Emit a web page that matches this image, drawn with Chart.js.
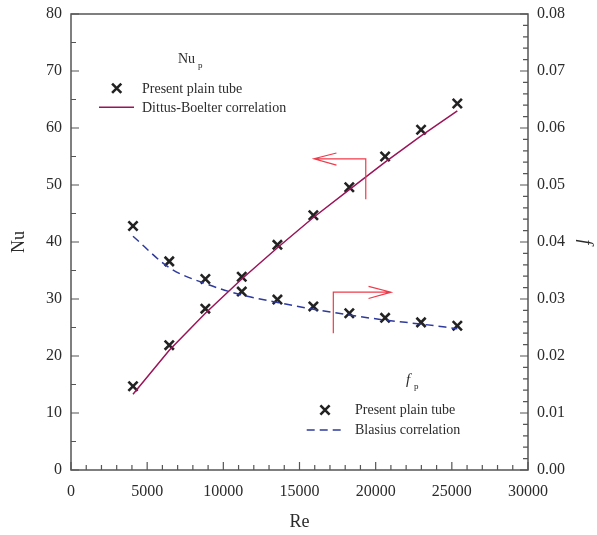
<!DOCTYPE html>
<html>
<head>
<meta charset="utf-8">
<script src="https://cdn.jsdelivr.net/npm/chart.js@4.4.1/dist/chart.umd.min.js"></script>
<style>
  html, body { margin: 0; padding: 0; background: #fff; }
  #wrap { width: 597px; height: 535px; }
</style>
</head>
<body>
<div id="wrap"><canvas id="chart" width="597" height="535"></canvas></div>
<script>
// Reynolds numbers of the test points
const re = [4070, 6450, 8820, 11210, 13550, 15910, 18270, 20620, 22980, 25360];
// Nusselt number, present plain tube
const nuPlain = [14.7, 21.9, 28.3, 33.9, 39.5, 44.7, 49.6, 55.0, 59.7, 64.3];
// Dittus-Boelter correlation
const nuDittus = [13.3, 21.0, 27.5, 33.5, 39.0, 44.3, 49.2, 54.0, 58.6, 63.0];
// friction factor, present plain tube
const fPlain = [0.0428, 0.0366, 0.0335, 0.0313, 0.0299, 0.0287, 0.0275, 0.0267, 0.0259, 0.0253];
// Blasius correlation
const fBlasius = [0.0410, 0.0355, 0.0327, 0.0307, 0.0294, 0.0282, 0.0272, 0.0263, 0.0256, 0.0248];

const SERIF = '"Liberation Serif", "DejaVu Serif", serif';
const TEXT = '#2b2b2b';
const AXIS = '#555';
const RED = '#ee3b4a';

const pts = (xs, ys) => xs.map((x, i) => ({ x: x, y: ys[i] }));

// inward ticks, frame, legends and arrows
const decor = {
    id: 'decor',
    afterDraw(chart) {
        const ctx = chart.ctx;
        const a = chart.chartArea;
        const sx = chart.scales.x, sn = chart.scales.yNu, sf = chart.scales.yF;
        ctx.save();

        // frame
        ctx.strokeStyle = AXIS;
        ctx.lineWidth = 1.5;
        ctx.strokeRect(a.left, a.top, a.right - a.left, a.bottom - a.top);

        // ticks
        ctx.lineWidth = 1.2;
        ctx.beginPath();
        for (let v = 0; v <= 30000; v += 1000) {
            const px = sx.getPixelForValue(v);
            const len = v % 5000 === 0 ? 8 : 5;
            ctx.moveTo(px, a.bottom); ctx.lineTo(px, a.bottom - len);
        }
        for (let v = 0; v <= 80; v += 5) {
            const py = sn.getPixelForValue(v);
            const len = v % 10 === 0 ? 8 : 5;
            ctx.moveTo(a.left, py); ctx.lineTo(a.left + len, py);
        }
        for (let k = 0; k <= 40; k++) {
            const py = sf.getPixelForValue(k * 0.002);
            const len = k % 5 === 0 ? 8 : 5;
            ctx.moveTo(a.right, py); ctx.lineTo(a.right - len, py);
        }
        ctx.stroke();

        // cross marker helper
        const cross = (x, y) => {
            ctx.save();
            ctx.strokeStyle = '#222';
            ctx.lineWidth = 2.6;
            ctx.beginPath();
            ctx.moveTo(x - 4.6, y - 4.6); ctx.lineTo(x + 4.6, y + 4.6);
            ctx.moveTo(x + 4.6, y - 4.6); ctx.lineTo(x - 4.6, y + 4.6);
            ctx.stroke();
            ctx.restore();
        };

        ctx.fillStyle = TEXT;
        ctx.textAlign = 'left';
        ctx.textBaseline = 'alphabetic';

        // legend Nu
        ctx.font = '14px ' + SERIF;
        ctx.fillText('Nu', 178, 63);
        ctx.font = '9px ' + SERIF;
        ctx.fillText('p', 198, 68);
        ctx.font = '14px ' + SERIF;
        cross(116.7, 88.3);
        ctx.fillText('Present plain tube', 142, 92.5);
        ctx.strokeStyle = '#9a1458';
        ctx.lineWidth = 1.5;
        ctx.beginPath(); ctx.moveTo(99, 107.3); ctx.lineTo(134, 107.3); ctx.stroke();
        ctx.fillText('Dittus-Boelter correlation', 142, 111.5);

        // legend f
        ctx.font = 'italic 15px ' + SERIF;
        ctx.fillText('f', 406, 384);
        ctx.font = '9px ' + SERIF;
        ctx.fillText('p', 414, 389);
        ctx.font = '14px ' + SERIF;
        cross(325, 410);
        ctx.fillText('Present plain tube', 355, 414);
        ctx.strokeStyle = '#2e3a9c';
        ctx.lineWidth = 1.5;
        ctx.setLineDash([8, 5]);
        ctx.beginPath(); ctx.moveTo(306.7, 430); ctx.lineTo(341.7, 430); ctx.stroke();
        ctx.setLineDash([]);
        ctx.fillText('Blasius correlation', 355, 433.7);

        // arrows
        ctx.strokeStyle = RED;
        ctx.lineWidth = 1.2;
        const arrow = (xv, y0, y1, xTip) => {
            const x = sx.getPixelForValue(xv);
            const yb = sn.getPixelForValue(y0), yt = sn.getPixelForValue(y1);
            const xt = sx.getPixelForValue(xTip);
            const dir = xt < x ? 1 : -1;
            ctx.beginPath();
            ctx.moveTo(x, yb); ctx.lineTo(x, yt); ctx.lineTo(xt, yt);
            ctx.moveTo(xt + dir * 22.5, yt - 5.8); ctx.lineTo(xt, yt); ctx.lineTo(xt + dir * 22.5, yt + 6.3);
            ctx.stroke();
        };
        arrow(19350, 47.5, 54.6, 15950);
        arrow(17220, 24.0, 31.2, 21010);

        ctx.restore();
    }
};

// fixed axis boxes so the plot area lands where the reference has it
const fixSize = (w, h) => (scale) => {
    if (w !== null) scale.width = w;
    if (h !== null) scale.height = h;
    scale.paddingTop = 0;
    scale.paddingBottom = 0;
    scale.paddingLeft = 0;
    scale.paddingRight = 0;
};

new Chart(document.getElementById('chart'), {
    type: 'scatter',
    data: {
        datasets: [
            {
                label: 'Dittus-Boelter correlation',
                data: pts(re, nuDittus),
                yAxisID: 'yNu',
                showLine: true,
                borderColor: '#9a1458',
                borderWidth: 1.5,
                pointRadius: 0,
                tension: 0
            },
            {
                label: 'Blasius correlation',
                data: pts(re, fBlasius),
                yAxisID: 'yF',
                showLine: true,
                borderColor: '#2e3a9c',
                borderWidth: 1.5,
                borderDash: [8, 5],
                pointRadius: 0,
                cubicInterpolationMode: 'monotone'
            },
            {
                label: 'Present plain tube (Nu)',
                data: pts(re, nuPlain),
                yAxisID: 'yNu',
                pointStyle: 'crossRot',
                pointRadius: 6.5,
                borderColor: '#222',
                pointBorderWidth: 2.6
            },
            {
                label: 'Present plain tube (f)',
                data: pts(re, fPlain),
                yAxisID: 'yF',
                pointStyle: 'crossRot',
                pointRadius: 6.5,
                borderColor: '#222',
                pointBorderWidth: 2.6
            }
        ]
    },
    options: {
        responsive: false,
        animation: false,
        devicePixelRatio: 1,
        layout: { padding: { top: 14, left: 0, right: 0, bottom: 0 } },
        plugins: { legend: { display: false }, tooltip: { enabled: false } },
        scales: {
            x: {
                type: 'linear',
                position: 'bottom',
                min: 0, max: 30000,
                grid: { display: false, drawTicks: false },
                border: { display: false },
                ticks: {
                    stepSize: 5000, padding: 12, maxRotation: 0,
                    color: TEXT, font: { family: SERIF, size: 16 },
                    callback: (v) => String(v)
                },
                title: {
                    display: true, text: 'Re', color: TEXT,
                    font: { family: SERIF, size: 18 },
                    padding: { top: 0, bottom: 2 }
                },
                afterFit: fixSize(null, 65)
            },
            yNu: {
                type: 'linear',
                position: 'left',
                min: 0, max: 80,
                grid: { display: false, drawTicks: false },
                border: { display: false },
                ticks: {
                    stepSize: 10, padding: 9,
                    color: TEXT, font: { family: SERIF, size: 16 }
                },
                title: {
                    display: true, text: 'Nu', color: TEXT,
                    font: { family: SERIF, size: 18 },
                    padding: { top: 8, bottom: 0 }
                },
                afterFit: fixSize(71, null)
            },
            yF: {
                type: 'linear',
                position: 'right',
                min: 0, max: 0.08,
                grid: { display: false, drawTicks: false },
                border: { display: false },
                ticks: {
                    stepSize: 0.01, padding: 9,
                    color: TEXT, font: { family: SERIF, size: 16 },
                    callback: (v) => v.toFixed(2)
                },
                title: {
                    display: true, text: 'f', color: TEXT,
                    font: { family: SERIF, size: 18, style: 'italic' },
                    padding: { top: 1, bottom: 0 }
                },
                afterFit: fixSize(69, null)
            }
        }
    },
    plugins: [decor]
});
</script>
</body>
</html>
